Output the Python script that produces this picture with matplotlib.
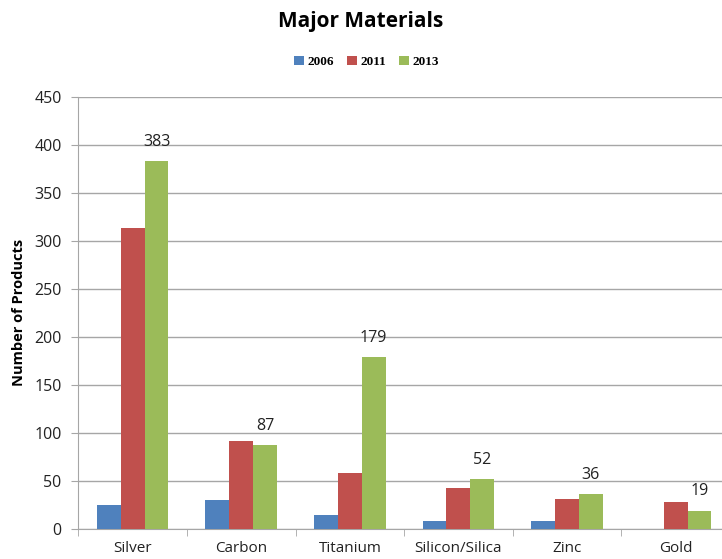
import matplotlib
matplotlib.use("Agg")
import matplotlib.pyplot as plt
import numpy as np

categories = ["Silver", "Carbon", "Titanium", "Silicon/Silica", "Zinc", "Gold"]
years = ["2006", "2011", "2013"]
v2006 = [25, 30, 14, 8, 8, 0]
v2011 = [313, 91, 58, 43, 31, 28]
v2013 = [383, 87, 179, 52, 36, 19]
colors = ["#4F81BD", "#C0504D", "#9BBB59"]
yticks = [0, 50, 100, 150, 200, 250, 300, 350, 400, 450]

font = "Open Sans"
fig = plt.figure(figsize=(7.22, 5.59), dpi=100)
ax = fig.add_axes([0.1085, 0.054, 0.9025, 0.773])

x = np.arange(len(categories))
w = 0.22
series = [v2006, v2011, v2013]
bars = []
for i, (vals, c, lab) in enumerate(zip(series, colors, years)):
    b = ax.bar(x + (i - 1) * w, vals, w, color=c, label=lab, zorder=3, linewidth=0)
    bars.append(b)

for rect, v in zip(bars[2], v2013):
    ax.annotate(str(v), (rect.get_x() + rect.get_width() / 2, v),
                xytext=(0, 8), textcoords="offset points", ha="center", va="bottom",
                fontsize=11.5, fontfamily=font, color="#222222", zorder=4)

ax.set_xlim(-0.5, len(categories) - 0.5)
ax.set_ylim(0, 450)
ax.set_yticks(yticks)
ax.set_yticklabels([str(t) for t in yticks], fontsize=11.5, fontfamily=font, color="#222222")
ax.yaxis.grid(True, color="#A6A6A6", linewidth=1.0, zorder=0)
ax.set_axisbelow(True)

ax.set_xticks(x)
ax.set_xticklabels(categories, fontsize=11, fontfamily=font, color="#222222")
ax.tick_params(axis="x", length=0, pad=9)
ax.set_xticks(np.arange(len(categories) + 1) - 0.5, minor=True)
ax.tick_params(axis="x", which="minor", length=5, color="#A6A6A6")
ax.tick_params(axis="y", length=5, color="#A6A6A6", pad=7)

for s in ["top", "right"]:
    ax.spines[s].set_visible(False)
for s in ["left", "bottom"]:
    ax.spines[s].set_color("#A6A6A6")

ax.set_ylabel("Number of Products", fontsize=10.5, fontweight="bold", fontfamily=font, labelpad=6)

fig.text(0.5, 0.962, "Major Materials", ha="center", va="center", fontsize=15,
         fontweight="bold", fontfamily=font)

leg = fig.legend(handles=bars, labels=years, loc="center", bbox_to_anchor=(0.508, 0.889),
                 ncol=3, frameon=False, prop={"family": "Liberation Serif", "weight": "bold", "size": 9.5},
                 handlelength=0.7, handleheight=0.7, handletextpad=0.3, columnspacing=1.0)

fig.savefig("out.png", dpi=100)
